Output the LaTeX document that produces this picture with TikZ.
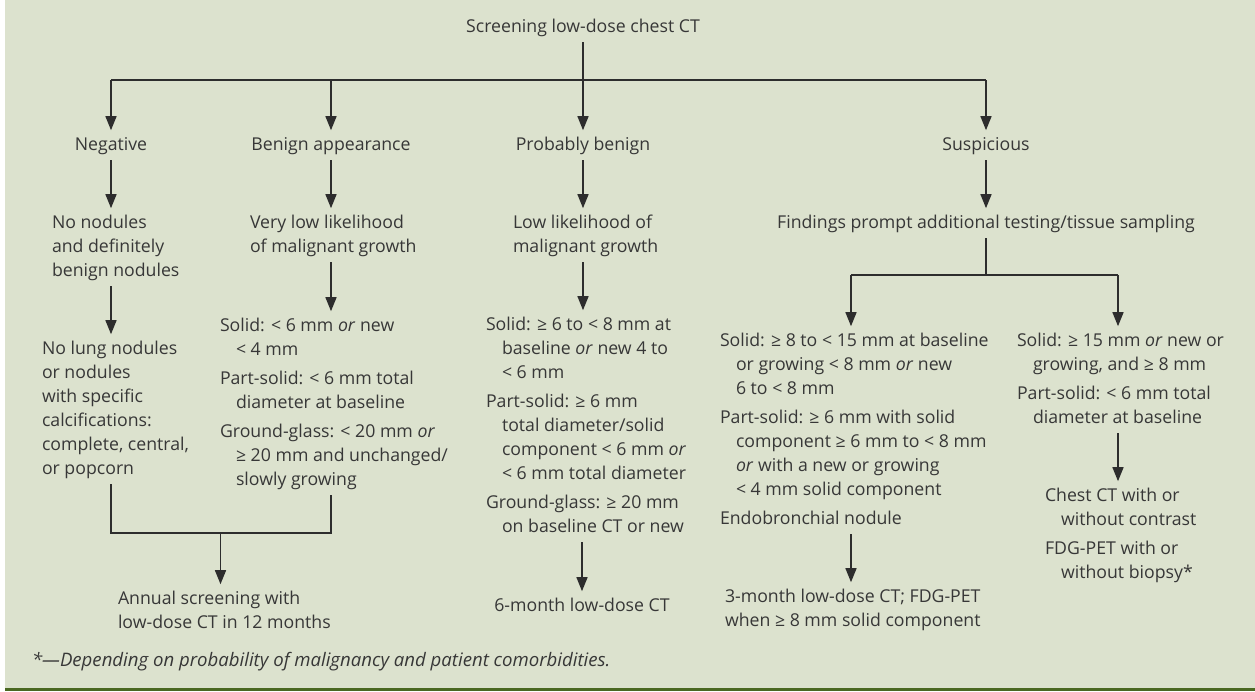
\documentclass[tikz,border=0pt]{standalone}
\usepackage{fontspec}
\setmainfont{Open Sans}
\usetikzlibrary{arrows.meta}
\definecolor{panel}{RGB}{220,226,206}
\definecolor{rule}{RGB}{74,104,34}
\definecolor{txtc}{RGB}{55,55,55}
\definecolor{linec}{RGB}{45,45,45}
\newcommand{\fs}{\fontsize{17.7}{24}\selectfont}
\newcommand{\ind}{\hspace*{16pt}}
\tikzset{
  lbl/.style={inner sep=0pt, outer sep=3pt, anchor=north, align=center, font=\fs, text=txtc},
  blk/.style={inner sep=0pt, outer sep=3pt, anchor=north west, align=left, font=\fs, text=txtc},
  ln/.style={draw=linec, line width=1.4pt},
  arr/.style={ln, -{Triangle[length=14pt,width=11pt]}}
}
\begin{document}
\begin{tikzpicture}[x=1pt,y=-1pt]
\useasboundingbox (0,0) rectangle (1255,691);
\fill[white] (0,0) rectangle (1255,691);
\fill[panel] (5,0) rectangle (1255,688);
\fill[rule] (5,688) rectangle (1255,691);
% title
\node[lbl] (t) at (583,12.2) {\strut Screening low-dose chest CT};
% row 1
\node[lbl] (neg) at (111,130.2) {\strut Negative};
\node[lbl] (ben) at (331,130.2) {\strut Benign appearance};
\node[lbl] (pb) at (583,130.2) {\strut Probably benign};
\node[lbl] (sus) at (986,130.2) {\strut Suspicious};
% row 2
\node[blk] (nod) at (49,208.2) {\strut No nodules\\and definitely\\benign nodules\strut};
\node[blk] (vlow) at (247,208.2) {\strut Very low likelihood\\of malignant growth\strut};
\node[blk] (low) at (510,208.2) {\strut Low likelihood of\\malignant growth\strut};
\node[lbl] (find) at (986,208.2) {\strut Findings prompt additional testing/tissue sampling};
% row 3
\node[blk] (lung) at (39,334.2) {\strut No lung nodules\\or nodules\\with specific\\calcifications:\\complete, central,\\or popcorn\strut};
\node[blk] (bsol) at (217,311.2) {\strut Solid: < 6 mm \emph{or} new\\\ind< 4 mm\\[5pt]
Part-solid: < 6 mm total\\\ind diameter at baseline\\[5pt]
Ground-glass: < 20 mm \emph{or}\\\ind≥ 20 mm and unchanged/\\\ind slowly growing\strut};
\node[blk] (psol) at (483,310.2) {\strut Solid: ≥ 6 to < 8 mm at\\\ind baseline \emph{or} new 4 to\\\ind< 6 mm\\[5pt]
Part-solid: ≥ 6 mm\\\ind total diameter/solid\\\ind component < 6 mm \emph{or}\\\ind< 6 mm total diameter\\[5pt]
Ground-glass: ≥ 20 mm\\\ind on baseline CT or new\strut};
\node[blk] (ssol) at (717,326.2) {\strut Solid: ≥ 8 to < 15 mm at baseline\\\ind or growing < 8 mm \emph{or} new\\\ind 6 to < 8 mm\\[5pt]
Part-solid: ≥ 6 mm with solid\\\ind component ≥ 6 mm to < 8 mm\\\ind\emph{or} with a new or growing\\\ind< 4 mm solid component\\[5pt]
Endobronchial nodule\strut};
\node[blk] (rsol) at (1014,326.2) {\strut Solid: ≥ 15 mm \emph{or} new or\\\ind growing, and ≥ 8 mm\\[5pt]
Part-solid: < 6 mm total\\\ind diameter at baseline\strut};
% row 4
\node[blk] (ann) at (115,584.2) {\strut Annual screening with\\low-dose CT in 12 months\strut};
\node[lbl] (six) at (582,591.2) {\strut 6-month low-dose CT\strut};
\node[blk] (three) at (722,582.2) {\strut 3-month low-dose CT; FDG-PET\\when ≥ 8 mm solid component\strut};
\node[blk] (chest) at (1042,481.2) {\strut Chest CT with or\\\ind without contrast\\[5pt]
FDG-PET with or\\\ind without biopsy*\strut};
% footnote
\node[blk, outer sep=0pt, font=\fontsize{18.6}{24}\selectfont] (fn) at (32,649.2) {\strut\emph{*---Depending on probability of malignancy and patient comorbidities.}};
% coordinates
\coordinate (hb) at (583,80);
\coordinate (sp) at (986,275);
\coordinate (sl) at (851,275);
\coordinate (sr) at (1118,275);
\coordinate (jy) at (220.5,533);
% connectors top
\draw[arr] (t.south) -- (pb.north);
\draw[ln] (neg.north |- hb) -- (sus.north |- hb);
\draw[arr] (neg.north |- hb) -- (neg.north);
\draw[arr] (ben.north |- hb) -- (ben.north);
\draw[arr] (sus.north |- hb) -- (sus.north);
% row1 -> row2
\draw[arr] (neg.south) -- (neg.south |- nod.north);
\draw[arr] (ben.south) -- (ben.south |- vlow.north);
\draw[arr] (pb.south) -- (pb.south |- low.north);
\draw[arr] (sus.south) -- (sus.south |- find.north);
% row2 -> row3
\draw[arr] (nod.south -| neg) -- (lung.north -| neg);
\draw[arr] (vlow.south -| ben) -- (bsol.north -| ben);
\draw[arr] (low.south -| pb) -- (psol.north -| pb);
\draw[ln] (find.south) -- (find.south |- sp);
\draw[ln] (sl) -- (sr);
\draw[arr] (sl) -- (sl |- ssol.north);
\draw[arr] (sr) -- (sr |- rsol.north);
% row3 -> row4
\draw[ln] (lung.south -| neg) -- (neg |- jy) -- (ben |- jy) -- (bsol.south -| ben);
\draw[arr] (jy) -- (jy |- ann.north);
\draw[arr] (psol.south -| six) -- (six.north);
\draw[arr] (ssol.south -| sl) -- (three.north -| sl);
\draw[arr] (rsol.south -| sr) -- (chest.north -| sr);
\end{tikzpicture}
\end{document}
